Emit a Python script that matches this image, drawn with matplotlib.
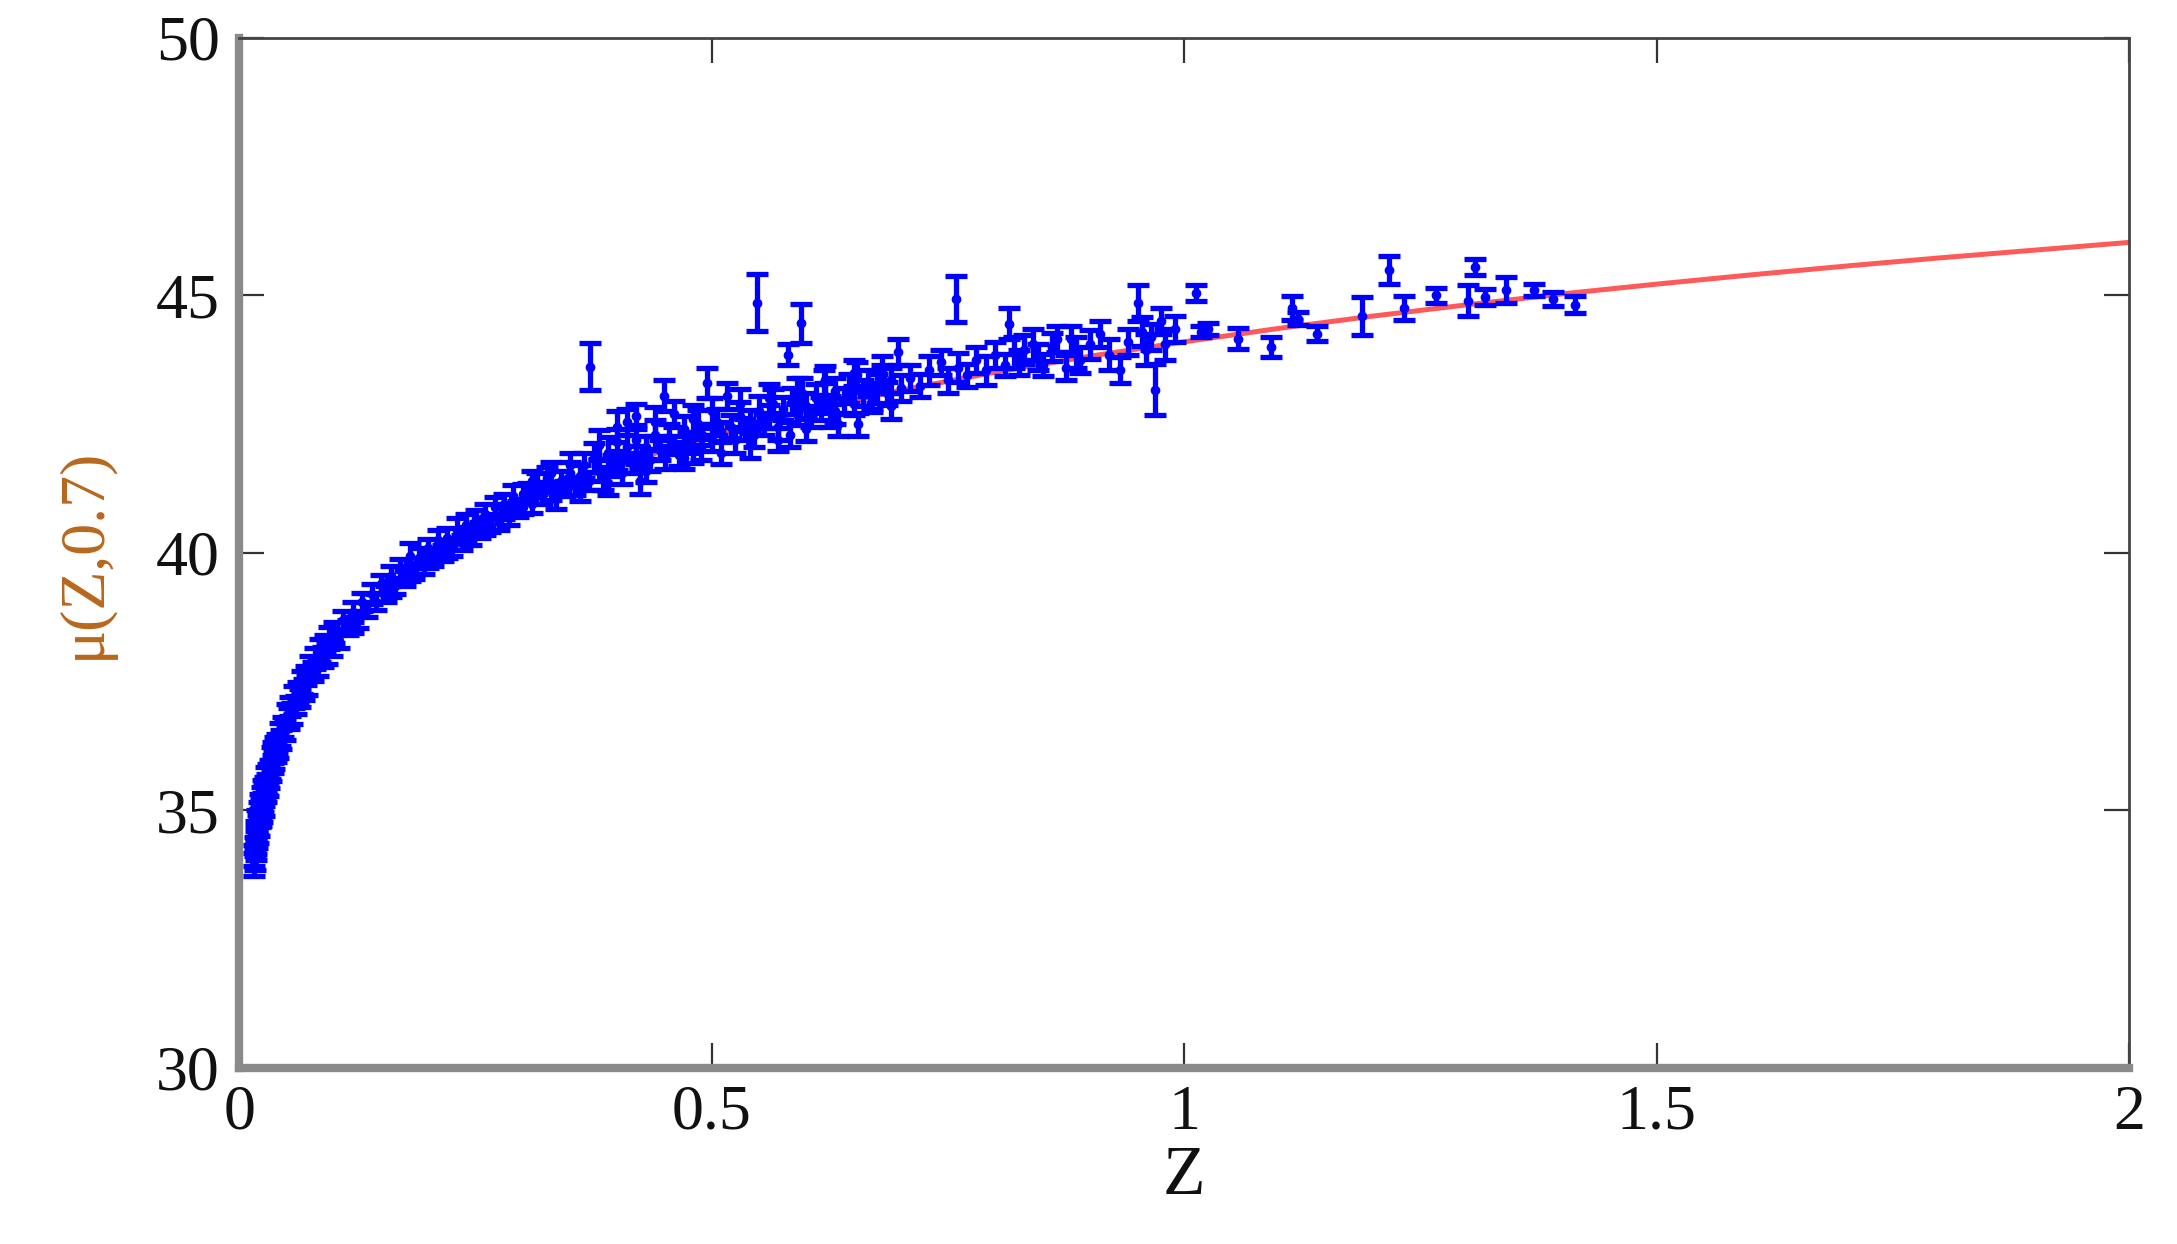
import matplotlib
matplotlib.use("Agg")
import matplotlib.pyplot as plt

# ---- data -----------------------------------------------------------------
# low redshift
z_low = [0.015, 0.015, 0.016, 0.016, 0.017, 0.017, 0.018, 0.018, 0.019, 0.019,
         0.020, 0.020, 0.021, 0.021, 0.022, 0.022, 0.023, 0.023, 0.024, 0.024,
         0.025, 0.025, 0.026, 0.026, 0.027, 0.028, 0.028, 0.029, 0.030, 0.030,
         0.031, 0.032, 0.033, 0.034, 0.035, 0.036, 0.037, 0.038, 0.039, 0.040,
         0.041, 0.043, 0.044, 0.046, 0.048, 0.050, 0.052, 0.054, 0.056, 0.058,
         0.060, 0.062, 0.064, 0.066, 0.068, 0.070, 0.072, 0.075, 0.078, 0.080,
         0.083, 0.085, 0.088, 0.090, 0.093, 0.095, 0.098, 0.100]
mu_low = [34.12, 33.95, 34.30, 34.05, 34.25, 34.52, 34.60, 34.38, 34.45, 34.80,
          34.72, 34.55, 34.95, 34.70, 34.85, 35.12, 35.05, 34.88, 35.25, 35.00,
          35.15, 35.40, 35.30, 35.08, 35.45, 35.35, 35.62, 35.50, 35.72, 35.48,
          35.66, 35.80, 35.78, 36.02, 35.90, 36.12, 35.98, 36.20, 36.15, 36.30,
          36.22, 36.48, 36.38, 36.62, 36.55, 36.85, 36.78, 37.02, 36.88, 37.20,
          37.05, 37.30, 37.18, 37.48, 37.35, 37.62, 37.45, 37.78, 37.70, 37.95,
          37.80, 38.10, 37.98, 38.22, 38.05, 38.35, 38.18, 38.45]
err_low = [0.20, 0.22, 0.18, 0.20, 0.22, 0.18, 0.20, 0.22, 0.18, 0.20,
           0.20, 0.18, 0.22, 0.20, 0.18, 0.20, 0.22, 0.18, 0.20, 0.22,
           0.18, 0.20, 0.22, 0.18, 0.20, 0.18, 0.22, 0.20, 0.18, 0.20,
           0.22, 0.18, 0.20, 0.22, 0.18, 0.20, 0.18, 0.22, 0.20, 0.18,
           0.20, 0.22, 0.18, 0.20, 0.18, 0.22, 0.20, 0.18, 0.20, 0.22,
           0.18, 0.20, 0.18, 0.22, 0.20, 0.18, 0.20, 0.22, 0.18, 0.20,
           0.18, 0.22, 0.20, 0.18, 0.20, 0.22, 0.18, 0.20]

# intermediate redshift 0.1 - 0.3
z_mid = [0.105, 0.110, 0.115, 0.120, 0.125, 0.130, 0.135, 0.140, 0.145, 0.150,
         0.155, 0.160, 0.165, 0.170, 0.175, 0.180, 0.185, 0.190, 0.195, 0.200,
         0.205, 0.210, 0.215, 0.220, 0.225, 0.230, 0.235, 0.240, 0.245, 0.250,
         0.255, 0.260, 0.265, 0.270, 0.275, 0.280, 0.285, 0.290, 0.295, 0.300,
         0.120, 0.160, 0.180, 0.200, 0.220, 0.240, 0.260, 0.280, 0.300]
mu_mid = [38.30, 38.70, 38.55, 38.85, 38.70, 39.05, 38.90, 39.20, 39.05, 39.40,
          39.20, 39.55, 39.35, 39.70, 39.50, 39.95, 39.65, 39.90, 39.75, 40.10,
          39.90, 40.25, 40.00, 40.30, 40.10, 40.45, 40.20, 40.55, 40.30, 40.65,
          40.45, 40.75, 40.55, 40.90, 40.60, 40.95, 40.70, 41.10, 40.85, 41.15,
          38.60, 39.30, 39.60, 39.85, 40.05, 40.35, 40.50, 40.80, 40.90]
err_mid = [0.15, 0.18, 0.15, 0.20, 0.15, 0.18, 0.15, 0.20, 0.15, 0.18,
           0.15, 0.20, 0.15, 0.18, 0.15, 0.25, 0.15, 0.20, 0.15, 0.18,
           0.15, 0.20, 0.15, 0.18, 0.15, 0.22, 0.15, 0.20, 0.15, 0.18,
           0.15, 0.20, 0.15, 0.18, 0.15, 0.20, 0.15, 0.22, 0.15, 0.18,
           0.15, 0.15, 0.15, 0.15, 0.15, 0.15, 0.15, 0.15, 0.15]

# 0.3 - 0.7
z_hi = [0.305, 0.310, 0.315, 0.320, 0.325, 0.330, 0.335, 0.340, 0.345, 0.350,
        0.355, 0.360, 0.365, 0.370, 0.371, 0.375, 0.380, 0.385, 0.390, 0.395,
        0.400, 0.400, 0.405, 0.410, 0.415, 0.420, 0.420, 0.424, 0.430, 0.435,
        0.440, 0.445, 0.449, 0.450, 0.455, 0.460, 0.465, 0.470, 0.475, 0.480,
        0.485, 0.488, 0.490, 0.495, 0.500, 0.505, 0.510, 0.516, 0.520, 0.525,
        0.530, 0.535, 0.540, 0.545, 0.548, 0.550, 0.555, 0.560, 0.565, 0.570,
        0.575, 0.581, 0.583, 0.585, 0.590, 0.594, 0.595, 0.600, 0.605, 0.610,
        0.615, 0.619, 0.620, 0.625, 0.630, 0.633, 0.640, 0.645, 0.650, 0.654,
        0.655, 0.660, 0.665, 0.670, 0.675, 0.680, 0.685, 0.690, 0.697, 0.700]
mu_hi = [41.20, 40.95, 41.35, 41.10, 41.45, 41.20, 41.05, 41.40, 41.25, 41.55,
         41.30, 41.50, 41.70, 41.40, 43.62, 41.85, 41.60, 41.45, 41.95, 41.70,
         42.15, 41.80, 41.55, 42.05, 41.75, 42.20, 41.90, 41.40, 42.05, 41.80,
         42.30, 42.00, 43.05, 41.85, 42.25, 42.10, 41.90, 42.40, 42.15, 42.00,
         42.50, 42.05, 42.30, 43.30, 42.20, 42.55, 42.35, 43.05, 42.45, 42.20,
         42.65, 42.40, 42.55, 42.30, 44.86, 42.75, 42.50, 42.65, 42.90, 42.45,
         42.80, 43.85, 42.30, 42.95, 42.70, 44.46, 43.10, 42.85, 42.65, 43.00,
         42.80, 43.30, 43.05, 42.75, 43.15, 42.50, 42.95, 43.20, 42.90, 43.45,
         42.50, 43.10, 43.30, 42.95, 43.20, 43.40, 43.10, 43.35, 43.90, 43.20]
err_hi = [0.15, 0.18, 0.20, 0.15, 0.22, 0.18, 0.20, 0.20, 0.15, 0.22,
          0.18, 0.20, 0.25, 0.18, 0.45, 0.28, 0.20, 0.22, 0.30, 0.20,
          0.25, 0.18, 0.22, 0.25, 0.20, 0.28, 0.18, 0.25, 0.22, 0.20,
          0.28, 0.20, 0.30, 0.22, 0.25, 0.18, 0.22, 0.25, 0.20, 0.25,
          0.28, 0.25, 0.20, 0.29, 0.22, 0.25, 0.20, 0.25, 0.22, 0.25,
          0.28, 0.20, 0.22, 0.25, 0.55, 0.30, 0.20, 0.22, 0.28, 0.25,
          0.22, 0.20, 0.25, 0.25, 0.22, 0.38, 0.30, 0.25, 0.20, 0.28,
          0.22, 0.25, 0.25, 0.30, 0.25, 0.22, 0.25, 0.28, 0.22, 0.25,
          0.22, 0.25, 0.25, 0.22, 0.28, 0.25, 0.22, 0.25, 0.25, 0.25]

# extra points filling the 0.3 - 0.7 band
z_fill = [0.31, 0.33, 0.35, 0.36, 0.38, 0.39, 0.40, 0.41, 0.42, 0.43,
          0.44, 0.46, 0.47, 0.48, 0.50, 0.51, 0.53, 0.54, 0.56, 0.57,
          0.59, 0.60, 0.62, 0.63, 0.65, 0.67, 0.68, 0.69]
mu_fill = [41.40, 41.55, 41.70, 41.20, 42.10, 41.35, 42.45, 42.55, 42.65, 41.60,
           42.55, 42.70, 41.85, 42.60, 42.75, 41.95, 42.90, 42.10, 43.00, 42.20,
           43.15, 42.40, 43.35, 42.75, 43.50, 43.05, 43.55, 42.85]
err_fill = [0.20, 0.22, 0.25, 0.20, 0.28, 0.22, 0.30, 0.25, 0.25, 0.22,
            0.28, 0.25, 0.22, 0.28, 0.25, 0.22, 0.28, 0.25, 0.28, 0.22,
            0.25, 0.22, 0.28, 0.25, 0.25, 0.25, 0.28, 0.25]

# 0.7 - 1.0
z_far = [0.710, 0.720, 0.730, 0.742, 0.750, 0.758, 0.760, 0.770, 0.780, 0.790,
         0.800, 0.810, 0.814, 0.820, 0.825, 0.830, 0.840, 0.845, 0.850, 0.860,
         0.865, 0.875, 0.880, 0.885, 0.890, 0.900, 0.911, 0.920, 0.932, 0.940,
         0.951, 0.955, 0.960, 0.965, 0.969, 0.975, 0.980, 0.990]
mu_far = [43.40, 43.25, 43.55, 43.70, 43.35, 44.93, 43.60, 43.45, 43.75, 43.55,
          43.85, 43.65, 44.45, 43.90, 43.70, 43.95, 44.05, 43.80, 43.65, 44.00,
          44.15, 43.60, 44.15, 43.90, 43.75, 44.05, 44.25, 43.85, 43.55, 44.10,
          44.85, 44.30, 43.95, 44.20, 43.17, 44.50, 44.05, 44.35]
err_far = [0.25, 0.22, 0.28, 0.25, 0.25, 0.45, 0.28, 0.22, 0.25, 0.28,
           0.25, 0.22, 0.30, 0.30, 0.25, 0.28, 0.30, 0.25, 0.22, 0.28,
           0.25, 0.25, 0.25, 0.30, 0.25, 0.28, 0.25, 0.30, 0.25, 0.25,
           0.35, 0.28, 0.30, 0.25, 0.50, 0.25, 0.30, 0.25]

# z > 1
z_top = [1.012, 1.018, 1.025, 1.057, 1.092, 1.114, 1.120, 1.140, 1.188, 1.217,
         1.233, 1.266, 1.300, 1.308, 1.318, 1.340, 1.370, 1.390, 1.414]
mu_top = [45.05, 44.30, 44.35, 44.16, 44.00, 44.75, 44.55, 44.26, 44.60, 45.50,
          44.75, 45.00, 44.90, 45.55, 44.97, 45.10, 45.10, 44.93, 44.82]
err_top = [0.15, 0.10, 0.12, 0.20, 0.20, 0.23, 0.12, 0.15, 0.37, 0.27,
           0.23, 0.14, 0.30, 0.15, 0.15, 0.25, 0.12, 0.14, 0.16]

# model curve (red line)
z_model = [0.015, 0.02, 0.03, 0.05, 0.07, 0.10, 0.15, 0.20, 0.25, 0.30, 0.35,
           0.40, 0.50, 0.60, 0.70, 0.80, 0.90, 1.00, 1.10, 1.20, 1.30, 1.40,
           1.50, 1.60, 1.70, 1.80, 1.90, 2.00]
mu_model = [34.07, 34.70, 35.60, 36.74, 37.51, 38.31, 39.26, 39.95, 40.51, 40.97,
            41.36, 41.70, 42.28, 42.76, 43.16, 43.51, 43.82, 44.10, 44.36, 44.60,
            44.82, 45.03, 45.22, 45.40, 45.57, 45.73, 45.88, 46.03]

x_ticks = [0, 0.5, 1, 1.5, 2]
x_tick_labels = ["0", "0.5", "1", "1.5", "2"]
y_ticks = [30, 35, 40, 45, 50]
y_tick_labels = ["30", "35", "40", "45", "50"]

# ---- plotting --------------------------------------------------------------
serif = ["Liberation Serif", "DejaVu Serif"]
plt.rcParams["font.family"] = serif

fig = plt.figure(figsize=(21.77, 12.44), dpi=100)
ax = fig.add_axes([0.110, 0.1415, 0.868, 0.828])

ax.plot(z_model, mu_model, color="#ff5a5a", lw=3.6, zorder=2)

for zs, ms, es in [(z_low, mu_low, err_low), (z_mid, mu_mid, err_mid),
                   (z_hi, mu_hi, err_hi), (z_fill, mu_fill, err_fill),
                   (z_far, mu_far, err_far), (z_top, mu_top, err_top)]:
    ax.errorbar(zs, ms, yerr=es, fmt="o", ms=6, color="#0000ff",
                ecolor="#0000ff", elinewidth=3.8, capsize=8, capthick=3.8,
                zorder=3)

ax.set_xlim(0, 2)
ax.set_ylim(30, 50)
ax.set_xticks(x_ticks)
ax.set_xticklabels(x_tick_labels)
ax.set_yticks(y_ticks)
ax.set_yticklabels(y_tick_labels)

ax.tick_params(axis="both", which="major", direction="in", length=18,
               width=1.6, color="#333333", labelsize=46, labelcolor="#111111",
               top=True, right=True)
ax.tick_params(axis="x", pad=12)
ax.tick_params(axis="y", pad=14)

for side in ["left", "bottom"]:
    ax.spines[side].set_linewidth(6)
    ax.spines[side].set_color("#8a8a8a")
for side in ["top", "right"]:
    ax.spines[side].set_linewidth(2)
    ax.spines[side].set_color("#444444")

ax.set_xlabel("Z", fontsize=50, color="#111111", labelpad=2)
ax.set_ylabel("μ(Z,0.7)", fontsize=46, color="#b8681c", labelpad=30)

fig.savefig("out.png", dpi=100, facecolor="white")
